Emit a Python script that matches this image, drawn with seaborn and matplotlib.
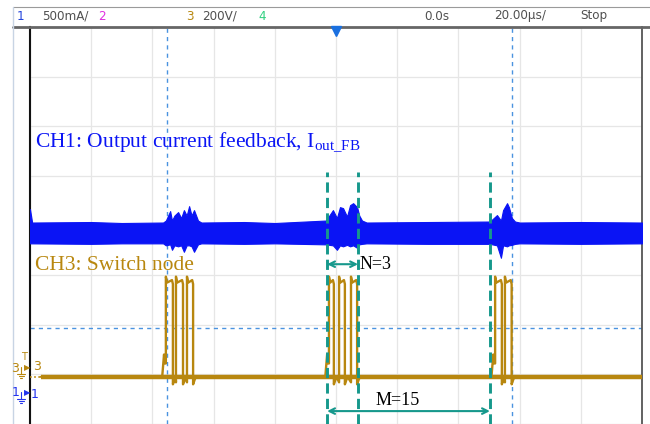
import numpy as np
import pandas as pd
import matplotlib
matplotlib.use("Agg")
import matplotlib.pyplot as plt
import seaborn as sns
from matplotlib.lines import Line2D

# ---------------- data (time in µs, amplitude in screen divisions) ----------------
cursor_t = [-55.2, 57.5]          # blue dashed time cursors
ref_level = 1.93                  # blue dashed horizontal cursor
marker_t = [-2.9, 7.2, 50.3]      # teal dashed markers (N and M spans)
n_label, m_label = "N=3", "M=15"

# CH1 (output current feedback) envelope
ch1_t = [-100, -99.3, -80, -70, -56.5, -55.6, -54.2, -53.6, -52.8, -51.6, -50.6, -49.7, -48.8,
         -48.0, -47.2, -46.4, -45.1, -44.0, -30, -20, -3.3, -1.0, 0.3, 1.3, 2.3, 3.6,
         4.6, 5.6, 6.9, 7.6, 8.5, 10, 30, 50.3, 52.6, 53.9, 54.6, 55.9, 56.5, 57.5,
         58.5, 60, 80, 100]
ch1_hi = [4.33, 4.06, 4.07, 4.05, 4.06, 4.10, 4.29, 4.10, 4.20, 4.27, 4.15, 4.31, 4.20,
          4.39, 4.20, 4.31, 4.10, 4.06, 4.07, 4.05, 4.10, 4.31, 4.15, 4.37, 4.35, 4.18,
          4.41, 4.45, 4.37, 4.20, 4.10, 4.06, 4.07, 4.08, 4.21, 4.10, 4.31, 4.45, 4.37,
          4.15, 4.08, 4.06, 4.07, 4.06]
ch1_lo = [3.64, 3.64, 3.63, 3.64, 3.64, 3.60, 3.62, 3.51, 3.60, 3.58, 3.60, 3.47, 3.60,
          3.60, 3.58, 3.47, 3.62, 3.64, 3.63, 3.64, 3.62, 3.60, 3.51, 3.60, 3.58, 3.61,
          3.58, 3.60, 3.55, 3.62, 3.63, 3.64, 3.63, 3.63, 3.60, 3.35, 3.60, 3.58, 3.60,
          3.61, 3.63, 3.64, 3.63, 3.64]

# CH3 (switch node) pulses
ch3_rise = [-55.6, -52.3, -48.7, -2.3, 1.0, 4.9, 52.0, 55.2]
ch3_fall = [-53.3, -50.0, -46.7, -0.7, 2.9, 6.9, 54.2, 57.4]
burst_first = [-55.6, -2.3, 52.0]
ch3_low, ch3_high, ch3_start = 0.95, 2.88, -96.4

# ---------------- style ----------------
sns.set_style("white")
plt.rcParams["font.family"] = ["DejaVu Sans"]
plt.rcParams["mathtext.fontset"] = "custom"
plt.rcParams["mathtext.rm"] = "Liberation Serif"

BLUE = "#0a14f5"
GOLD = "#b8870f"
TEAL = "#16988c"
CURS = "#4a93e0"
GRID = "#e6e6e6"

W, H = 650, 424
fig = plt.figure(figsize=(W / 100, H / 100), dpi=100)
fx = lambda px: px / W
fy = lambda py: 1 - py / H
ax = fig.add_axes([fx(30), 0, (642 - 30) / W, (424 - 27) / H])
ax.set_xlim(-100, 100)
ax.set_ylim(0, 8)
ax.set_xticks(np.linspace(-100, 100, 11))
ax.set_yticks(np.arange(0, 9))
ax.grid(True, color=GRID, lw=0.9)
ax.tick_params(length=0, labelbottom=False, labelleft=False)
ax.spines["left"].set_color("#111111"); ax.spines["left"].set_linewidth(1.5)
ax.spines["right"].set_color("#555555"); ax.spines["right"].set_linewidth(1.3)
ax.spines["top"].set_visible(False)
ax.spines["bottom"].set_visible(False)

# cursors
ax.vlines(cursor_t, 0, 8, colors=CURS, linestyles=(0, (3, 3)), lw=1.0, zorder=2)
ax.axhline(ref_level, color=CURS, ls=(0, (3, 3)), lw=1.0, zorder=2)

# CH1 band
ax.fill_between(ch1_t, ch1_lo, ch1_hi, color=BLUE, lw=0.8, edgecolor=BLUE, zorder=3)

# CH3 trace
xs, ys = [ch3_start], [ch3_low]
for r, f in zip(ch3_rise, ch3_fall):
    if r in burst_first:
        xs += [r - 1.2, r - 0.6, r - 0.3, r]
        ys += [ch3_low, 1.40, 1.22, 1.22]
    else:
        xs += [r]
        ys += [0.84]
    xs += [r, r + 0.4, f - 0.3, f, f, f + 0.5, f + 0.9]
    ys += [ch3_high + 0.09, ch3_high - 0.03, ch3_high + 0.02, ch3_high - 0.06, 0.80,
           ch3_low - 0.06, ch3_low]
xs += [100]
ys += [ch3_low]
ch3 = pd.DataFrame({"t": xs, "v": ys})
ax.plot([ch3_start, 100], [ch3_low, ch3_low], color=GOLD, lw=3.2, zorder=3, solid_capstyle="butt")
ax.plot([-100, ch3_start], [ch3_low, ch3_low], color=GOLD, lw=1.2, ls=(0, (1, 1.5)), zorder=3)
sns.lineplot(data=ch3, x="t", y="v", sort=False, estimator=None, color=GOLD, lw=1.7, ax=ax, zorder=4)
ax.set_xlabel(""); ax.set_ylabel("")

# teal markers and spans
ax.vlines(marker_t, 0, 5.08, colors=TEAL, linestyles=(0, (3.5, 1.8)), lw=2.1, zorder=5)
ax.annotate("", xy=(marker_t[0], 3.22), xytext=(marker_t[1], 3.22),
            arrowprops=dict(arrowstyle="<->", color=TEAL, lw=1.5, shrinkA=0, shrinkB=0), zorder=6)
ax.annotate("", xy=(marker_t[0], 0.26), xytext=(marker_t[2], 0.26),
            arrowprops=dict(arrowstyle="<->", color=TEAL, lw=1.5, shrinkA=0, shrinkB=0), zorder=6)
ax.text(marker_t[1] + 0.5, 3.22, n_label, family="Liberation Serif", fontsize=13, va="center", ha="left", color="black")
ax.text(20.3, 0.47, m_label, family="Liberation Serif", fontsize=13, va="center", ha="center", color="black")

# channel labels
ax.text(-98.5, 5.58, r"CH1: Output current feedback, I$_{\mathrm{out\_FB}}$", family="Liberation Serif",
        fontsize=15.5, color=BLUE, va="baseline", ha="left")
ax.text(-98.5, 3.10, "CH3: Switch node", family="Liberation Serif", fontsize=15.5, color=GOLD,
        va="baseline", ha="left")

# ---------------- screen furniture ----------------
fig.add_artist(Line2D([fx(13), fx(650)], [fy(7), fy(7)], color="#9a9a9a", lw=0.8))
fig.add_artist(Line2D([fx(13), fx(650)], [fy(27), fy(27)], color="#666666", lw=2.0))
fig.add_artist(Line2D([fx(13), fx(13)], [fy(7), fy(424)], color="#c8d4e4", lw=1.0))

hy = fy(16)
hdr = dict(fontsize=9.5, va="center", ha="left", color="#505050", fontstretch="condensed")
fig.text(fx(17), hy, "1", **{**hdr, "color": "#2244dd"})
fig.text(fx(42), hy, "500mA/", **hdr)
fig.text(fx(98), hy, "2", **{**hdr, "color": "#e030e0"})
fig.text(fx(186), hy, "3", **{**hdr, "color": GOLD})
fig.text(fx(202), hy, "200V/", **hdr)
fig.text(fx(258), hy, "4", **{**hdr, "color": "#30d080"})
fig.text(fx(424), hy, "0.0s", **hdr)
fig.text(fx(494), hy, "20.00µs/", **hdr)
fig.text(fx(580), hy, "Stop", **hdr)

# trigger marker
fig.add_artist(Line2D([fx(336)], [fy(31)], marker="v", markersize=7, color="#1a70e0", lw=0))

# channel ground markers
fig.text(fx(15), fy(369), "3", fontsize=9, color=GOLD, va="center", ha="center")
fig.text(fx(24), fy(357), "T", fontsize=7, color=GOLD, va="center", ha="center")
fig.text(fx(27), fy(368), "▶", fontsize=6, color=GOLD, va="center", ha="center")
fig.text(fx(37), fy(367), "3", fontsize=9, color=GOLD, va="center", ha="center")
fig.text(fx(16), fy(393), "1", fontsize=9, color="#2233ee", va="center", ha="center")
fig.text(fx(27), fy(393), "▶", fontsize=6, color="#2233ee", va="center", ha="center")
fig.text(fx(35), fy(394), "1", fontsize=9, color="#2233ee", va="center", ha="center")
for (cy, col) in [(367, GOLD), (392, "#2233ee")]:
    fig.add_artist(Line2D([fx(21), fx(21)], [fy(cy), fy(cy + 7)], color=col, lw=0.8))
    for k, hw in enumerate([4, 2.5, 1]):
        fig.add_artist(Line2D([fx(21 - hw), fx(21 + hw)], [fy(cy + 7 + 2 * k), fy(cy + 7 + 2 * k)], color=col, lw=0.8))

fig.savefig("out.png", dpi=100)
